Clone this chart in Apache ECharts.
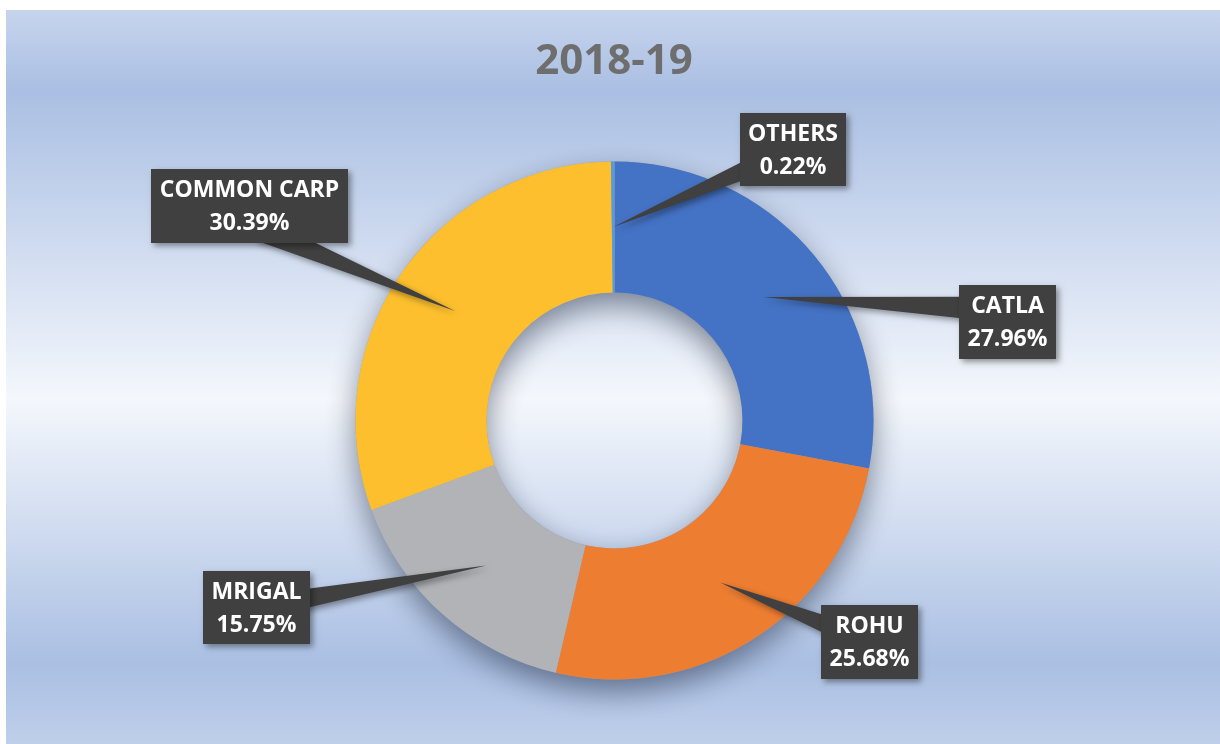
<!DOCTYPE html>
<html>
<head>
<meta charset="utf-8">
<title>2018-19</title>
<script src="https://cdn.jsdelivr.net/npm/echarts@6/dist/echarts.min.js"></script>
<style>
  html, body { margin: 0; padding: 0; background: #fff; }
  #chart { width: 1220px; height: 744px; }
</style>
</head>
<body>
<div id="chart"></div>
<script>
// data
const titleText = '2018-19'
const categories = ['CATLA', 'ROHU', 'MRIGAL', 'COMMON CARP', 'OTHERS']
const shares = [27.96, 25.68, 15.75, 30.39, 0.22]

// look
const colors = ['#4472c4', '#ed7d31', '#b1b3b7', '#fdbf2d', '#5b9bd5']
const CX = 614.5
const CY = 420.5
const R_IN = 128
const R_OUT = 259
// callout boxes: left, top, width, height
const boxes = [
  [959, 285, 97, 74],
  [821, 605, 97, 74],
  [203, 571, 107, 73],
  [151, 169, 197, 74],
  [740, 113, 106, 73]
]
// where the pointer aims inside each box (fraction of width / height)
const anchors = [
  [0.27, 0.32],
  [0.5, 0.5],
  [0.5, 0.5],
  [0.55, 0.81],
  [0.5, 0.5]
]
const boxColor = '#404040'

const chart = echarts.init(document.getElementById('chart'))
const total = shares.reduce((a, b) => a + b, 0)

function renderCallout(params, api) {
  const i = params.dataIndex
  let before = 0
  for (let k = 0; k < i; k++) before += shares[k]
  const mid = (before + api.value(1) / 2) / total * Math.PI * 2
  const rMid = (R_IN + R_OUT) / 2
  const tx = CX + rMid * Math.sin(mid)
  const ty = CY - rMid * Math.cos(mid)
  const b = boxes[i]
  const ax = b[0] + b[2] * anchors[i][0]
  const ay = b[1] + b[3] * anchors[i][1]
  const dx = ax - tx
  const dy = ay - ty
  const len = Math.sqrt(dx * dx + dy * dy)
  const nx = -dy / len
  const ny = dx / len
  const hw = 12
  const shadow = {
    shadowBlur: 6,
    shadowOffsetX: 3,
    shadowOffsetY: 3,
    shadowColor: 'rgba(0,0,0,0.4)'
  }
  return {
    type: 'group',
    children: [
      {
        type: 'polygon',
        shape: { points: [[tx, ty], [ax + nx * hw, ay + ny * hw], [ax - nx * hw, ay - ny * hw]] },
        style: Object.assign({ fill: boxColor }, shadow)
      },
      {
        type: 'rect',
        shape: { x: b[0], y: b[1], width: b[2], height: b[3] },
        style: Object.assign({ fill: boxColor }, shadow)
      },
      {
        type: 'text',
        style: {
          text: categories[i] + '\n' + api.value(1).toFixed(2) + '%',
          x: b[0] + b[2] / 2,
          y: b[1] + b[3] / 2 + 1,
          fill: '#ffffff',
          font: 'bold 23px "Open Sans"',
          lineHeight: 33,
          align: 'center',
          verticalAlign: 'middle'
        }
      }
    ]
  }
}

chart.setOption({
  animation: false,
  graphic: [
    {
      type: 'rect',
      z: -10,
      silent: true,
      shape: { x: 6, y: 10, width: 1214, height: 734 },
      style: {
        fill: new echarts.graphic.LinearGradient(0, 0, 0, 1, [
          { offset: 0, color: '#c7d4ed' },
          { offset: 0.11, color: '#aabfe3' },
          { offset: 0.53, color: '#f4f7fc' },
          { offset: 0.89, color: '#aabfe3' },
          { offset: 1, color: '#bfcfea' }
        ])
      }
    },
    {
      type: 'text',
      z: 10,
      x: 614,
      y: 62,
      style: {
        text: titleText,
        fill: '#6e6e6e',
        font: 'bold 42px "Open Sans"',
        align: 'center',
        verticalAlign: 'middle'
      }
    }
  ],
  series: [
    {
      // shadow under the ring
      type: 'pie',
      silent: true,
      z: 1,
      center: [CX, CY],
      radius: [R_IN, R_OUT],
      label: { show: false },
      labelLine: { show: false },
      itemStyle: {
        color: '#8e9fbd',
        shadowBlur: 30,
        shadowOffsetY: 12,
        shadowColor: 'rgba(20,30,50,0.5)'
      },
      data: [{ value: 1 }]
    },
    {
      name: titleText,
      type: 'pie',
      z: 2,
      center: [CX, CY],
      radius: [R_IN, R_OUT],
      startAngle: 90,
      clockwise: true,
      label: { show: false },
      labelLine: { show: false },
      data: categories.map((c, i) => ({
        name: c,
        value: shares[i],
        itemStyle: { color: colors[i] }
      }))
    },
    {
      type: 'custom',
      coordinateSystem: 'none',
      z: 5,
      silent: true,
      renderItem: renderCallout,
      data: shares.map((v, i) => [i, v])
    }
  ]
})
</script>
</body>
</html>
